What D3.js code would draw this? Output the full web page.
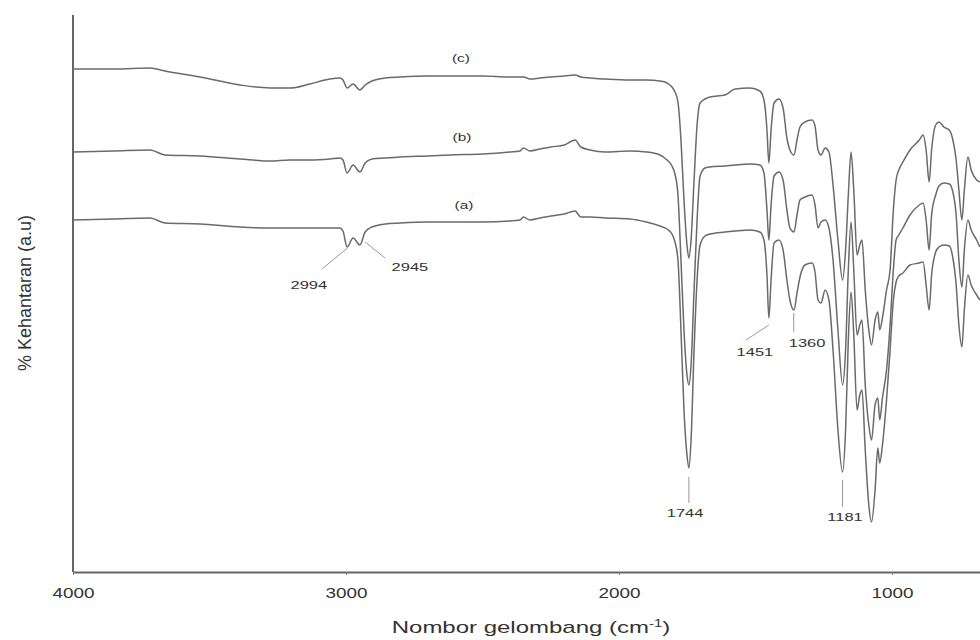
<!DOCTYPE html>
<html>
<head>
<meta charset="utf-8">
<script src="https://cdn.jsdelivr.net/npm/d3@7"></script>
<style>
  body { margin: 0; background: #fff; }
  svg text { font-family: "Liberation Sans", Arial, sans-serif; fill: #333; }
</style>
</head>
<body>
<div id="container"></div>
<script>
// wavenumbers (cm-1), shared by the three spectra
const wavenumbers = [4000, 3850, 3718, 3663, 3535, 3388, 3278, 3205, 3132, 3059, 3022, 3011, 2996, 2974, 2949, 2930, 2905, 2857, 2802, 2700,
  2619, 2500, 2400, 2363, 2350, 2326, 2289, 2250, 2200, 2161, 2140, 2106, 2050, 1960, 1900, 1850, 1824, 1806, 1795, 1784,
  1773, 1762, 1751, 1744, 1736, 1725, 1714, 1703, 1685, 1667, 1612, 1575, 1520, 1484, 1469, 1458, 1451, 1443, 1432, 1414,
  1399, 1385, 1374, 1359, 1348, 1337, 1319, 1293, 1282, 1271, 1260, 1245, 1231, 1216, 1198, 1181, 1170, 1160, 1150, 1140,
  1128, 1118, 1110, 1098, 1085, 1075, 1062, 1052, 1045, 1035, 1020, 1007, 995, 985, 975, 960, 934, 900, 886, 875,
  864, 855, 840, 828, 810, 790, 777, 765, 755, 744, 735, 722, 710, 690, 678];

// % Kehantaran, arbitrary units (traces already offset as in the figure)
const specC = [503, 503, 504, 501, 495, 487, 484, 484, 488, 493, 494, 492, 484, 488, 482, 487, 491, 494, 495, 496,
  496, 496, 495, 495, 495, 493, 494, 495, 496, 497, 495, 494, 493, 492, 492, 491, 489, 485, 480, 470,
  432, 372, 327, 314, 332, 392, 447, 469, 473, 475, 477, 483, 484, 481, 472, 442, 409, 442, 469, 473,
  464, 434, 422, 417, 432, 445, 450, 452, 446, 422, 417, 424, 420, 387, 332, 292, 322, 377, 420, 382,
  317, 327, 332, 282, 242, 227, 252, 260, 242, 254, 282, 302, 362, 392, 402, 410, 422, 432, 437, 422,
  390, 422, 447, 450, 445, 442, 432, 412, 382, 352, 382, 415, 402, 392, 390];

const specB = [420, 421, 422, 417, 416, 413, 411, 412, 412, 413, 414, 412, 399, 407, 400, 409, 413, 414, 415, 416,
  417, 418, 420, 421, 424, 421, 423, 425, 427, 432, 425, 422, 420, 421, 420, 417, 412, 406, 398, 377,
  312, 242, 197, 187, 207, 282, 352, 396, 404, 405, 406, 407, 408, 407, 399, 362, 332, 367, 396, 400,
  392, 362, 344, 340, 357, 372, 375, 377, 367, 344, 350, 352, 344, 312, 242, 187, 222, 302, 350, 302,
  237, 247, 252, 187, 147, 132, 167, 174, 152, 174, 202, 247, 302, 332, 337, 344, 357, 367, 369, 352,
  322, 357, 377, 386, 389, 388, 380, 357, 312, 285, 322, 352, 342, 332, 325];

const specA = [352, 353, 354, 349, 348, 345, 344, 344, 344, 344, 344, 341, 325, 334, 327, 340, 345, 348, 349, 350,
  350, 350, 351, 352, 355, 352, 354, 356, 358, 361, 355, 355, 354, 353, 350, 346, 343, 338, 330, 312,
  242, 162, 117, 104, 132, 222, 292, 327, 336, 338, 340, 341, 342, 340, 332, 297, 254, 292, 329, 332,
  322, 292, 272, 262, 279, 295, 307, 309, 300, 272, 269, 282, 272, 222, 142, 100, 142, 232, 280, 237,
  162, 177, 182, 122, 67, 50, 82, 124, 109, 127, 172, 222, 272, 290, 296, 299, 307, 309, 310, 287,
  262, 297, 320, 325, 327, 326, 314, 287, 247, 225, 262, 297, 287, 277, 272];

const seriesNames = ["(c)", "(b)", "(a)"];
const seriesLabelPos = [[2579, 510], [2575, 431], [2568, 363]];

const xTicks = [4000, 3000, 2000, 1000];

// annotated bands: label position (wavenumber, a.u.) and leader line ends
const bandLabels = [
  { text: "2994", tx: 3136, ty: 283, l1: [2994, 324], l2: [3088, 303] },
  { text: "2945", tx: 2766, ty: 301, l1: [2930, 330], l2: [2857, 314] },
  { text: "1744", tx: 1758, ty: 55, l1: [1744, 95], l2: [1744, 69] },
  { text: "1451", tx: 1502, ty: 216, l1: [1451, 247], l2: [1535, 232] },
  { text: "1360", tx: 1311, ty: 225, l1: [1360, 259], l2: [1360, 240] },
  { text: "1181", tx: 1172, ty: 51, l1: [1181, 92], l2: [1181, 65] }
];

const width = 980, height = 640;
const margin = { top: 12, left: 73, bottom: 68 };

const svg = d3.select("#container").append("svg")
  .attr("width", width)
  .attr("height", height);

const x = d3.scaleLinear()
  .domain([4000, 400])
  .range([margin.left, margin.left + 3600 * 0.273]);

const y = d3.scaleLinear()
  .domain([0, 560])
  .range([height - margin.bottom, margin.top]);

// the original figure is stretched sideways, so text is too
function wideText(px, py, str, size, sx) {
  return svg.append("text")
    .attr("transform", `translate(${px},${py}) scale(${sx},1)`)
    .attr("text-anchor", "middle")
    .style("font-size", size + "px")
    .text(str);
}

// axes
const xAxis = svg.append("g")
  .attr("transform", `translate(0,${y(0)})`)
  .call(d3.axisBottom(x).tickValues(xTicks).tickSize(3).tickSizeOuter(0).tickPadding(13).tickFormat(d3.format("d")));
xAxis.select(".domain").attr("stroke", "#666").attr("stroke-width", 2);
xAxis.selectAll(".tick line").attr("stroke", "#777");
xAxis.selectAll("text")
  .style("font-size", "14px")
  .attr("fill", "#333")
  .attr("transform", "scale(1.35,1)");

svg.append("line")
  .attr("x1", x(4000)).attr("x2", x(4000))
  .attr("y1", y(557)).attr("y2", y(0))
  .attr("stroke", "#666")
  .attr("stroke-width", 2);

svg.append("text")
  .attr("transform", "translate(531,633) scale(1.5,1)")
  .attr("text-anchor", "middle")
  .style("font-size", "16px")
  .html('Nombor gelombang (cm<tspan dy="-6" font-size="10">-1</tspan><tspan dy="6">)</tspan>');

svg.append("text")
  .attr("transform", "translate(31,293) rotate(-90)")
  .attr("text-anchor", "middle")
  .style("font-size", "18px")
  .text("% Kehantaran (a.u)");

// spectra
const line = d3.line()
  .x((d, i) => x(wavenumbers[i]))
  .y(d => y(d))
  .curve(d3.curveMonotoneX);

[specC, specB, specA].forEach(s => {
  svg.append("path")
    .datum(s)
    .attr("fill", "none")
    .attr("stroke", "#6a6a6a")
    .attr("stroke-width", 1.5)
    .attr("stroke-linejoin", "round")
    .attr("d", line);
});

seriesNames.forEach((n, i) => {
  wideText(x(seriesLabelPos[i][0]), y(seriesLabelPos[i][1]), n, 11, 1.4);
});

// band annotations
bandLabels.forEach(b => {
  svg.append("line")
    .attr("x1", x(b.l1[0])).attr("y1", y(b.l1[1]))
    .attr("x2", x(b.l2[0])).attr("y2", y(b.l2[1]))
    .attr("stroke", "#999")
    .attr("stroke-width", 1);
  wideText(x(b.tx), y(b.ty), b.text, 11, 1.5);
});
</script>
</body>
</html>
